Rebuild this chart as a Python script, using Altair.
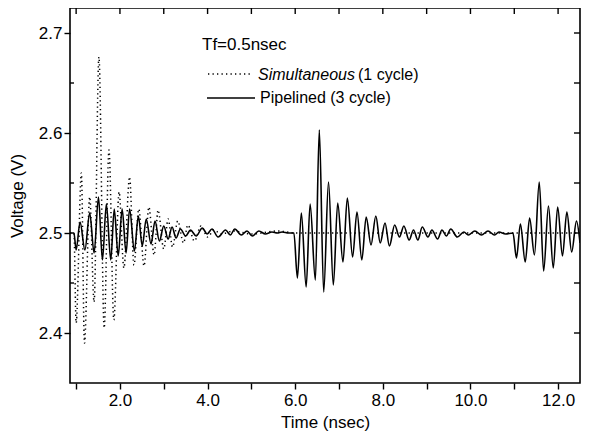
import altair as alt
import pandas as pd

FONT = "Liberation Sans"

# ---------------- data ----------------
# Pipelined (3 cycle) -- solid line, extremes of the ringing waveform
pipe_time = [
    0.86, 0.95,
    1.00, 1.09, 1.20, 1.31, 1.41, 1.51, 1.60, 1.69, 1.79, 1.87, 1.96, 2.05,
    2.14, 2.22, 2.33, 2.42, 2.51, 2.60, 2.71, 2.80, 2.90, 3.00, 3.10, 3.19,
    3.28, 3.38, 3.50, 3.61, 3.74, 3.88, 3.99, 4.10, 4.24, 4.41, 4.52, 4.62,
    4.77, 4.90, 5.02, 5.17, 5.32, 5.47, 5.59, 5.70, 5.85, 5.97,
    6.05, 6.14, 6.25, 6.34, 6.46, 6.55, 6.65, 6.76, 6.87, 6.97, 7.09, 7.19,
    7.31, 7.41, 7.52, 7.62, 7.73, 7.84, 7.94, 8.05, 8.15, 8.27, 8.38, 8.48,
    8.60, 8.70, 8.80, 8.90, 9.03, 9.12, 9.25, 9.35, 9.45, 9.55, 9.70, 9.85,
    9.95, 10.10, 10.25, 10.40, 10.55, 10.65, 10.80, 10.97,
    11.05, 11.14, 11.25, 11.35, 11.46, 11.57, 11.67, 11.78, 11.89, 11.99,
    12.10, 12.20, 12.31, 12.42, 12.50,
]
pipe_volt = [
    2.500, 2.500,
    2.483, 2.511, 2.483, 2.520, 2.480, 2.536, 2.473, 2.529, 2.473, 2.524, 2.477, 2.524,
    2.480, 2.524, 2.482, 2.517, 2.487, 2.514, 2.489, 2.512, 2.492, 2.507, 2.494, 2.506,
    2.495, 2.504, 2.497, 2.503, 2.497, 2.505, 2.499, 2.504, 2.496, 2.503, 2.498, 2.504,
    2.498, 2.502, 2.497, 2.502, 2.499, 2.501, 2.500, 2.501, 2.500, 2.500,
    2.455, 2.520, 2.446, 2.529, 2.453, 2.603, 2.441, 2.551, 2.448, 2.530, 2.471, 2.535,
    2.476, 2.521, 2.473, 2.516, 2.488, 2.517, 2.490, 2.510, 2.487, 2.508, 2.496, 2.507,
    2.493, 2.503, 2.493, 2.506, 2.496, 2.503, 2.494, 2.503, 2.497, 2.504, 2.496, 2.501,
    2.498, 2.502, 2.498, 2.502, 2.498, 2.501, 2.499, 2.500,
    2.475, 2.509, 2.471, 2.515, 2.478, 2.551, 2.462, 2.527, 2.465, 2.526,
    2.477, 2.521, 2.481, 2.512, 2.490,
]

# Simultaneous (1 cycle) -- dotted line
simu_time = [
    0.86, 0.95, 1.00, 1.12, 1.19, 1.31, 1.41, 1.52, 1.64, 1.75, 1.86, 1.98,
    2.09, 2.22, 2.32, 2.43, 2.55, 2.66, 2.78, 2.87, 3.00, 3.10, 3.20, 3.32,
    3.45, 3.55, 3.70, 3.85, 4.00, 4.15, 4.30, 4.60, 5.00, 5.60, 6.00, 8.00,
    10.00, 12.50,
]
simu_volt = [
    2.500, 2.500, 2.410, 2.560, 2.390, 2.536, 2.431, 2.676, 2.405, 2.583, 2.413, 2.541,
    2.465, 2.556, 2.468, 2.524, 2.467, 2.526, 2.478, 2.523, 2.484, 2.514, 2.486, 2.512,
    2.490, 2.508, 2.492, 2.507, 2.496, 2.503, 2.499, 2.502, 2.499, 2.502, 2.500, 2.500,
    2.500, 2.500,
]

x_ticks = [1, 2, 3, 4, 5, 6, 7, 8, 9, 10, 11, 12]
y_major = [2.4, 2.5, 2.6, 2.7]
y_minor = [2.45, 2.55, 2.65]

annot_title = ["Tf=0.5nsec"]
legend_simu_italic = ["Simultaneous"]
legend_simu_rest = ["(1 cycle)"]
legend_pipe = ["Pipelined (3 cycle)"]

X_DOMAIN = [0.86, 12.5]
Y_DOMAIN = [2.35, 2.725]
W, H = 510, 375

assert len(pipe_time) == len(pipe_volt)
assert len(simu_time) == len(simu_volt)

pipe_df = pd.DataFrame({"t": pipe_time, "v": pipe_volt})
simu_df = pd.DataFrame({"t": simu_time, "v": simu_volt})
xt_df = pd.DataFrame({"t": x_ticks})
yall_df = pd.DataFrame({"v": sorted(y_major + y_minor)})
ymin_df = pd.DataFrame({"v": y_minor})

xscale = alt.Scale(domain=X_DOMAIN, nice=False, zero=False)
yscale = alt.Scale(domain=Y_DOMAIN, nice=False, zero=False)

x_axis = alt.Axis(
    values=x_ticks,
    labelExpr="datum.value % 2 === 0 ? format(datum.value, '.1f') : ''",
    title="Time (nsec)", domain=False, grid=False,
    tickSize=6, tickWidth=1.4, tickColor="black",
    labelPadding=3, titlePadding=6,
)
y_axis = alt.Axis(
    values=y_major, format=".1f",
    title="Voltage (V)", domain=False, grid=False,
    tickSize=6, tickWidth=1.4, tickColor="black",
    labelPadding=2, titlePadding=12,
)

X = alt.X("t:Q", scale=xscale, axis=x_axis)
Y = alt.Y("v:Q", scale=yscale, axis=y_axis)

simu = alt.Chart(simu_df).mark_line(
    color="black", strokeWidth=1.5, strokeDash=[1.3, 3.2], interpolate="monotone", clip=True
).encode(x=X, y=Y)

pipe = alt.Chart(pipe_df).mark_line(
    color="black", strokeWidth=1.6, interpolate="monotone", clip=True
).encode(x=X, y=Y)

# inward ticks on the top edge
top_ticks = alt.Chart(xt_df).mark_rule(color="black", strokeWidth=1.4).encode(
    x=X, y=alt.value(0), y2=alt.value(6),
)
# inward ticks on the right edge
right_ticks = alt.Chart(yall_df).mark_rule(color="black", strokeWidth=1.4).encode(
    y=Y, x=alt.value(W - 6), x2=alt.value(W),
)
# minor ticks on left edge
left_minor = alt.Chart(ymin_df).mark_rule(color="black", strokeWidth=1.4).encode(
    y=Y, x=alt.value(0), x2=alt.value(4),
)

def text_layer(values, x, y, size, style="normal"):
    return alt.Chart(pd.DataFrame({"label": values})).mark_text(
        align="left", baseline="middle", font=FONT, fontSize=size,
        fontStyle=style, color="black",
    ).encode(x=alt.value(x), y=alt.value(y), text="label:N")

def legend_rule(y, x1, x2, dash=None):
    kw = dict(color="black", strokeWidth=1.5)
    if dash:
        kw["strokeDash"] = dash
    return alt.Chart(pd.DataFrame({"k": [0]})).mark_rule(**kw).encode(
        x=alt.value(x1), x2=alt.value(x2), y=alt.value(y)
    )

legend = [
    text_layer(annot_title, 132, 37, 17),
    legend_rule(66, 138, 180, [1.3, 3.2]),
    text_layer(legend_simu_italic, 188, 67, 16, "italic"),
    text_layer(legend_simu_rest, 288, 67, 16),
    legend_rule(90, 137, 185),
    text_layer(legend_pipe, 190, 90, 16),
]

chart = alt.layer(
    simu, pipe, top_ticks, right_ticks, left_minor, *legend
).properties(
    width=W, height=H,
    autosize=alt.AutoSizeParams(type="none"),
    padding={"left": 62, "top": 0, "right": 1, "bottom": 54},
    background="white",
).configure_view(
    stroke="black", strokeWidth=1.6
).configure_axis(
    labelFont=FONT, titleFont=FONT, labelFontSize=17, titleFontSize=17,
    titleFontWeight="normal", labelColor="black", titleColor="black",
)

chart.save("out.html", embed_options={"renderer": "svg", "actions": False})
